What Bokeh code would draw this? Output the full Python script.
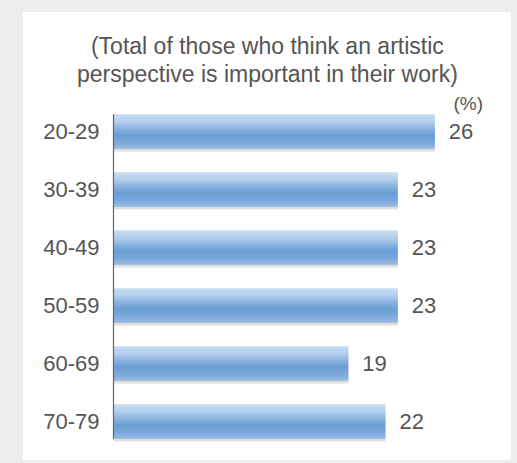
from bokeh.plotting import figure
from bokeh.models import ColumnDataSource, FactorRange, Range1d, Label
from bokeh.core.properties import value
from bokeh.transform import dodge
from bokeh.layouts import column
from bokeh.embed import file_html
from bokeh.resources import INLINE

# ---- data ----
age_groups = ["20-29", "30-39", "40-49", "50-59", "60-69", "70-79"]
percentages = [26, 23, 23, 23, 19, 22]
subtitle_lines = ["(Total of those who think an artistic",
                  "perspective is important in their work)"]
unit_label = "(%)"

source = ColumnDataSource(dict(age=age_groups, val=percentages,
                               txt=[str(v) for v in percentages],
                               zero=[0] * len(age_groups)))

FONT = "Liberation Sans"
TEXT_COLOR = "#555555"
PAD = 0.172

x_range = Range1d(-7.28, 32.2)

# ---- header panel with the subtitle ----
head = figure(width=488, height=80, output_backend="svg", toolbar_location=None,
              x_range=x_range, y_range=Range1d(0, 80),
              x_axis_location=None, y_axis_location=None, min_border=0)
head.title_location = None
head.background_fill_color = None
head.border_fill_color = None
head.outline_line_color = None
head.xgrid.visible = False
head.ygrid.visible = False
for line, yy in zip(subtitle_lines, [47, 19]):
    head.add_layout(Label(x=12.45, y=yy, text=line, text_align="center",
                          text_baseline="middle", text_font=FONT, text_font_size="23px",
                          text_color=TEXT_COLOR))

# ---- bar chart ----
p = figure(width=488, height=368, output_backend="svg", toolbar_location=None,
           y_range=FactorRange(factors=age_groups[::-1], range_padding=PAD,
                               range_padding_units="absolute"),
           x_range=x_range, x_axis_location=None, y_axis_location=None,
           min_border=0)
p.title_location = None
p.background_fill_color = None
p.border_fill_color = None
p.outline_line_color = None
p.xgrid.visible = False
p.ygrid.visible = False

BAR_H = 0.59

# shadow
p.hbar(y=dodge("age", -0.05, range=p.y_range), left=0,
       right="val", height=BAR_H, source=source,
       fill_color="#d9d7d1", line_color=None, fill_alpha=0.8)

# gradient slices
stops = [(0.0, (199, 221, 242)), (0.22, (178, 207, 237)), (0.45, (130, 175, 222)),
         (0.6, (104, 157, 212)), (0.8, (121, 167, 219)), (1.0, (150, 186, 229))]


def color_at(t):
    for (t0, c0), (t1, c1) in zip(stops[:-1], stops[1:]):
        if t0 <= t <= t1:
            f = (t - t0) / (t1 - t0)
            return "#%02x%02x%02x" % tuple(int(round(a + (b - a) * f)) for a, b in zip(c0, c1))
    return "#%02x%02x%02x" % stops[-1][1]


N = 18
sh = BAR_H / N
for i in range(N):
    t = (i + 0.5) / N
    off = BAR_H / 2 - (i + 0.5) * sh
    p.hbar(y=dodge("age", off, range=p.y_range), left=0, right="val",
           height=sh * 1.25, source=source, fill_color=color_at(t), line_color=None)

# axis line spanning bars
seg = ColumnDataSource(dict(y0=[age_groups[0]], y1=[age_groups[-1]], x=[0]))
p.segment(x0="x", x1="x", y0=dodge("y0", BAR_H / 2, range=p.y_range),
          y1=dodge("y1", -BAR_H / 2, range=p.y_range), source=seg,
          line_color="#666666", line_width=1.2)

# category labels (left of the axis line)
p.text(x="zero", y="age", text="age", source=source, x_offset=-14,
       text_baseline="middle", text_align="right", text_font=value(FONT),
       text_font_size="22px", text_color=TEXT_COLOR)

# value labels
p.text(x="val", y="age", text="txt", source=source, x_offset=14,
       text_baseline="middle", text_align="left", text_font=value(FONT),
       text_font_size="22px", text_color=TEXT_COLOR)

p.add_layout(Label(x=29.9, y=len(age_groups) + PAD, text=unit_label,
                   text_align="right", text_baseline="top", text_font=FONT,
                   text_font_size="19px", text_color=TEXT_COLOR))

inner = column(head, p, spacing=0, margin=(12, 6, 3, 23),
               styles={"background-color": "white"})
layout = column(inner, styles={"background-color": "#eeedeb"})
open("out.html", "w").write(file_html(layout, INLINE))
